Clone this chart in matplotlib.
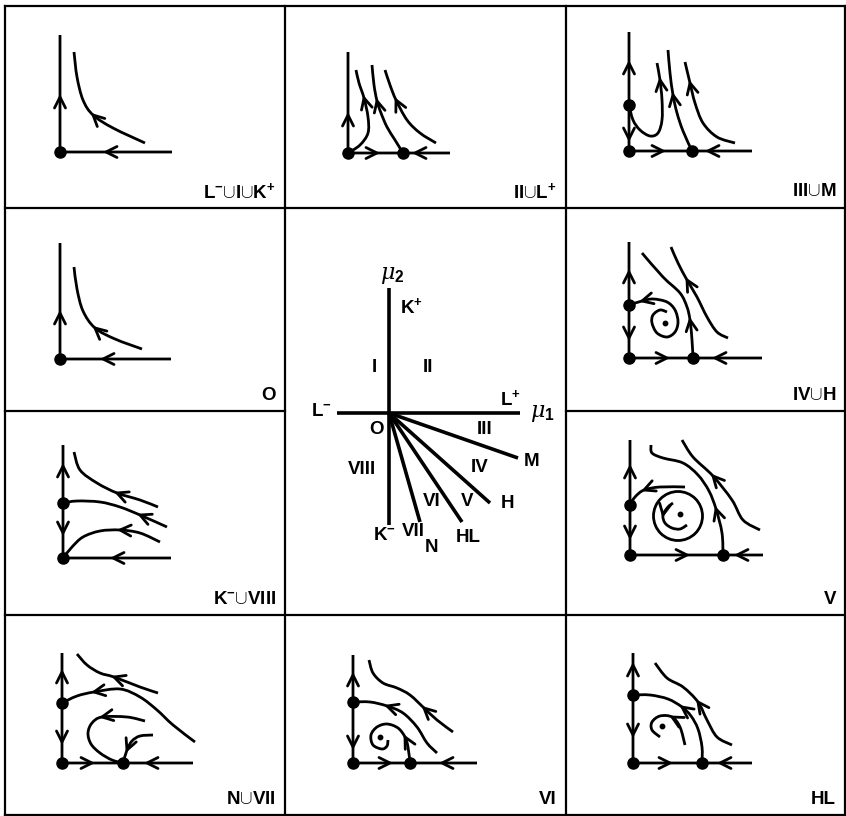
import numpy as np
import matplotlib
matplotlib.use('Agg')
import matplotlib.pyplot as plt
from matplotlib.path import Path
from matplotlib.patches import PathPatch, Circle
from matplotlib.transforms import Affine2D

FONT = ['Liberation Sans', 'DejaVu Sans']
plt.rcParams['mathtext.fontset'] = 'custom'
plt.rcParams['mathtext.rm'] = 'Liberation Sans'
plt.rcParams['mathtext.bf'] = 'Liberation Sans:bold'
plt.rcParams['mathtext.it'] = 'DejaVu Serif:italic'
plt.rcParams['mathtext.fallback'] = 'cm'
LW = 2.0

# ---- phase portraits ------------------------------------------------------
# local pixel units, origin at the corner equilibrium, y pointing up.
# every curve: (points in the direction of the flow, indices carrying an arrowhead)

lik_curves = [
    ([(0, 0), (0, 55), (0, 117)], [1]),
    ([(112, 0), (46, 0), (0, 0)], [1]),
    ([(85, 9), (53, 24), (33, 37), (23, 52), (17, 75), (14, 100)], [2]),
]
lik_dots = [(0, 0)]

ii_curves = [
    ([(0, 0), (0, 38), (0, 101)], [1]),
    ([(0, 0), (29, 0), (55, 0)], [1]),
    ([(102, 0), (67, 0), (55, 0)], [1]),
    ([(0, 0), (12, 8), (20, 20), (20, 36), (16, 55), (11, 70), (8, 83)], [4]),
    ([(55, 0), (47, 13), (39, 26), (33, 40), (29, 52), (26, 68), (24, 88)], [4]),
    ([(88, 10), (72, 20), (59, 33), (48, 53), (42, 68), (37, 83)], [3]),
]
ii_dots = [(0, 0), (55, 0)]

iii_curves = [
    ([(0, 46), (0, 88), (0, 119)], [1]),
    ([(0, 46), (0, 12), (0, 0)], [1]),
    ([(0, 0), (34, 0), (63, 0)], [1]),
    ([(123, 0), (79, 0), (63, 0)], [1]),
    ([(0, 46), (4, 31), (11, 21), (21, 15), (29, 18), (33, 31), (33, 51), (31, 71), (28, 88)], [7]),
    ([(63, 0), (54, 20), (48, 38), (44, 56), (41, 78), (39, 101)], [3]),
    ([(106, 8), (88, 14), (74, 28), (66, 48), (61, 68), (56, 89)], [4]),
]
iii_dots = [(0, 0), (0, 46), (63, 0)]

o_curves = [
    ([(0, 0), (0, 46), (0, 116)], [1]),
    ([(111, 0), (43, 0), (0, 0)], [1]),
    ([(82, 10), (55, 20), (35, 31), (23, 48), (17, 70), (14, 92)], [2]),
]
o_dots = [(0, 0)]

iv_curves = [
    ([(0, 53), (0, 86), (0, 116)], [1]),
    ([(0, 53), (0, 20), (0, 0)], [1]),
    ([(0, 0), (38, 0), (64, 0)], [1]),
    ([(133, 0), (86, 0), (64, 0)], [1]),
    ([(38, 46), (31, 48), (24, 43), (23, 35), (28, 25), (38, 21), (46, 26), (49, 36),
      (46, 48), (38, 56), (24, 59), (13, 57), (0, 53)], [11]),
    ([(64, 0), (63, 18), (61, 38), (58, 51), (51, 65), (34, 81), (13, 105)], [2]),
    ([(99, 20), (88, 26), (78, 41), (68, 61), (58, 78), (49, 95), (42, 111)], [4]),
]
iv_dots = [(0, 0), (0, 53), (64, 0)]
iv_foci = [(36, 35)]

viii_curves = [
    ([(0, 55), (0, 92), (0, 113)], [1]),
    ([(0, 55), (0, 25), (0, 0)], [1]),
    ([(108, 0), (50, 0), (0, 0)], [1]),
    ([(95, 51), (77, 58), (54, 65), (34, 75), (17, 88), (11, 106)], [2]),
    ([(104, 31), (77, 43), (57, 51), (37, 56), (14, 57), (0, 55)], [1]),
    ([(97, 16), (77, 25), (57, 28), (37, 27), (20, 21), (9, 11), (0, 0)], [2]),
]
viii_dots = [(0, 0), (0, 55)]

v_curves = [
    ([(0, 50), (0, 88), (0, 115)], [1]),
    ([(0, 50), (0, 18), (0, 0)], [1]),
    ([(0, 0), (57, 0), (93, 0)], [1]),
    ([(133, 0), (107, 0), (93, 0)], [1]),
    ([(55, 68), (30, 68), (14, 65), (5, 58), (0, 50)], [2]),
    ([(93, 0), (92, 22), (86, 46), (79, 64), (68, 80), (53, 92), (33, 97), (22, 102), (21, 110)], [2]),
    ([(130, 25), (113, 35), (102, 55), (83, 79), (63, 98), (52, 115)], [3]),
    ([(43, 52), (38, 48), (33, 40), (35, 32), (42, 27), (50, 26), (57, 30)], [2]),
]
v_dots = [(0, 0), (0, 50), (93, 0)]
v_foci = [(50, 41)]
v_cycles = [(48, 39, 24.5)]

n_curves = [
    ([(0, 60), (0, 91), (0, 110)], [1]),
    ([(0, 60), (0, 21), (0, 0)], [1]),
    ([(0, 0), (30, 0), (61, 0)], [1]),
    ([(131, 0), (85, 0), (61, 0)], [1]),
    ([(96, 70), (78, 76), (52, 86), (38, 90), (25, 98), (15, 109)], [2]),
    ([(133, 21), (111, 38), (95, 53), (78, 66), (58, 74), (32, 71), (15, 67), (0, 60)], [5]),
    ([(83, 42), (65, 46), (40, 46), (30, 40), (26, 30), (29, 19), (38, 10), (50, 3), (61, 0)], [2]),
    ([(91, 28), (78, 27), (70, 22), (65, 13), (61, 0)], [3]),
]
n_dots = [(0, 0), (0, 60), (61, 0)]

vi_curves = [
    ([(0, 61), (0, 88), (0, 108)], [1]),
    ([(0, 61), (0, 16), (0, 0)], [1]),
    ([(0, 0), (37, 0), (57, 0)], [1]),
    ([(124, 0), (89, 0), (57, 0)], [1]),
    ([(84, 10), (74, 20), (64, 36), (50, 50), (34, 57), (17, 61), (0, 61)], [4]),
    ([(57, 0), (55, 16), (52, 26), (45, 35), (34, 39), (24, 36), (18, 28), (20, 18),
      (29, 14), (34, 17), (35, 23)], [2]),
    ([(100, 31), (84, 43), (71, 55), (57, 68), (44, 75), (30, 80), (20, 90), (16, 103)], [2]),
]
vi_dots = [(0, 0), (0, 61), (57, 0)]
vi_foci = [(27, 26)]

hl_curves = [
    ([(0, 68), (0, 98), (0, 110)], [1]),
    ([(0, 68), (0, 28), (0, 0)], [1]),
    ([(0, 0), (37, 0), (69, 0)], [1]),
    ([(119, 0), (87, 0), (69, 0)], [1]),
    ([(69, 0), (69, 16), (65, 34), (58, 47), (49, 56), (35, 64), (17, 68), (0, 68)], [4]),
    ([(52, 18), (47, 36), (39, 46), (27, 47), (19, 41), (19, 33), (27, 26)], [2]),
    ([(99, 18), (84, 26), (74, 43), (65, 61), (50, 76), (34, 85), (22, 100)], [3]),
]
hl_dots = [(0, 0), (0, 68), (69, 0)]
hl_foci = [(29, 37)]

# ---- bifurcation diagram (centre) -----------------------------------------
SUP_P = r'$^{\mathbf{+}}$'
SUP_M = r'$^{\mathbf{-}}$'
CUP = r'$\cup$'
centre_axes = [((-52, 0), (131, 0)), ((0, 125), (0, -112))]
centre_rays = [(129, -45), (101, -90), (73, -109), (31, -109)]
centre_text = ['K' + SUP_P, 'I', 'II', 'L' + SUP_P, 'L' + SUP_M, 'O', 'III', 'IV', 'M',
               'VIII', 'VI', 'V', 'H', 'K' + SUP_M, 'VII', 'HL', 'N']
centre_text_xy = [(22, 106), (-15, 45), (39, 45), (121, 14), (-68, 1), (-13, -17),
                  (96, -17), (91, -54), (143, -49), (-27, -57), (43, -89), (78, -89),
                  (118, -90), (-5, -123), (24, -119), (79, -124), (43, -135)]

# ---- layout -----------------------------------------------------------------
XS = [5, 285, 566, 845]
YS = [6, 208, 411, 615, 815]

panels = [
    # (label, column, row, origin, curves, dots, foci, cycles)
    ('L' + SUP_M + CUP + 'I' + CUP + 'K' + SUP_P, 0, 0, (60, 152), lik_curves, lik_dots, [], []),
    ('II' + CUP + 'L' + SUP_P, 1, 0, (348, 153), ii_curves, ii_dots, [], []),
    ('III' + CUP + 'M', 2, 0, (629, 151), iii_curves, iii_dots, [], []),
    ('O', 0, 1, (60, 359), o_curves, o_dots, [], []),
    ('IV' + CUP + 'H', 2, 1, (629, 358), iv_curves, iv_dots, iv_foci, []),
    ('K' + SUP_M + CUP + 'VIII', 0, 2, (63, 558), viii_curves, viii_dots, [], []),
    ('V', 2, 2, (630, 555), v_curves, v_dots, v_foci, v_cycles),
    ('N' + CUP + 'VII', 0, 3, (62, 763), n_curves, n_dots, [], []),
    ('VI', 1, 3, (353, 763), vi_curves, vi_dots, vi_foci, []),
    ('HL', 2, 3, (633, 763), hl_curves, hl_dots, hl_foci, []),
]
centre_origin = (389, 413)


def smooth_path(pts):
    # Catmull-Rom through the points, handed to matplotlib as cubic Beziers
    P = np.asarray(pts, float)
    n = len(P)
    verts = [P[0]]
    codes = [Path.MOVETO]
    for i in range(n - 1):
        p0 = P[i - 1] if i > 0 else P[i]
        p1, p2 = P[i], P[i + 1]
        p3 = P[i + 2] if i + 2 < n else P[i + 1]
        verts += [p1 + (p2 - p0) / 6, p2 - (p3 - p1) / 6, p2]
        codes += [Path.CURVE4] * 3
    return Path(verts, codes)


def chevron(ax, pts, i, tr, length=11, half=5.5):
    P = np.asarray(pts, float)
    d = P[min(i + 1, len(P) - 1)] - P[max(i - 1, 0)]
    d = d / np.hypot(*d)
    nrm = np.array([-d[1], d[0]])
    tip = P[i]
    base = tip - length * d
    xy = np.array([base + half * nrm, tip, base - half * nrm])
    ax.plot(xy[:, 0], xy[:, 1], color='k', lw=LW, transform=tr,
            solid_joinstyle='round', solid_capstyle='round')


fig = plt.figure(figsize=(8.46, 8.16), dpi=100)
ax = fig.add_axes([0, 0, 1, 1])
ax.set_xlim(0, 846)
ax.set_ylim(816, 0)
ax.axis('off')

# cell borders
bk = dict(color='k', lw=1.6, solid_capstyle='projecting')
for x in XS:
    ax.plot([x, x], [YS[0], YS[-1]], **bk)
ax.plot([XS[0], XS[-1]], [YS[0], YS[0]], **bk)
ax.plot([XS[0], XS[-1]], [YS[-1], YS[-1]], **bk)
ax.plot([XS[0], XS[-1]], [YS[3], YS[3]], **bk)
for y in YS[1:3]:
    ax.plot([XS[0], XS[1]], [y, y], **bk)
    ax.plot([XS[2], XS[3]], [y, y], **bk)
ax.plot([XS[1], XS[2]], [YS[1], YS[1]], **bk)

for label, col, row, origin, curves, dots, foci, cycles in panels:
    tr = Affine2D().scale(1, -1).translate(*origin) + ax.transData
    for pts, arrows in curves:
        ax.add_patch(PathPatch(smooth_path(pts), fill=False, lw=LW, ec='k',
                               transform=tr, capstyle='butt'))
        for i in arrows:
            chevron(ax, pts, i, tr)
    for cx, cy, r in cycles:
        ax.add_patch(Circle((cx, cy), r, fill=False, lw=LW, ec='k', transform=tr))
    for x, y in dots:
        ax.plot(x, y, 'o', ms=8, color='k', transform=tr)
    for x, y in foci:
        ax.plot(x, y, 'o', ms=3.2, color='k', transform=tr)
    ax.text(XS[col + 1] - 9, YS[row + 1] - 16, label, ha='right', va='center',
            fontsize=13.5, fontweight='bold', family=FONT)

# centre panel
tr = Affine2D().scale(1, -1).translate(*centre_origin) + ax.transData
for (x0, y0), (x1, y1) in centre_axes:
    ax.plot([x0, x1], [y0, y1], color='k', lw=2.6, transform=tr, solid_capstyle='butt')
for x1, y1 in centre_rays:
    ax.plot([0, x1], [0, y1], color='k', lw=2.6, transform=tr, solid_capstyle='butt')
for s, (x, y) in zip(centre_text, centre_text_xy):
    ax.text(x, y, s, ha='center', va='center', fontsize=13.5, fontweight='bold',
            family=FONT, transform=tr)
ax.text(3, 138, r'$\mu_\mathbf{2}$', ha='center', va='center', fontsize=16, transform=tr)
ax.text(153, 0, r'$\mu_\mathbf{1}$', ha='center', va='center', fontsize=16, transform=tr)

fig.savefig('out.png', dpi=100)
